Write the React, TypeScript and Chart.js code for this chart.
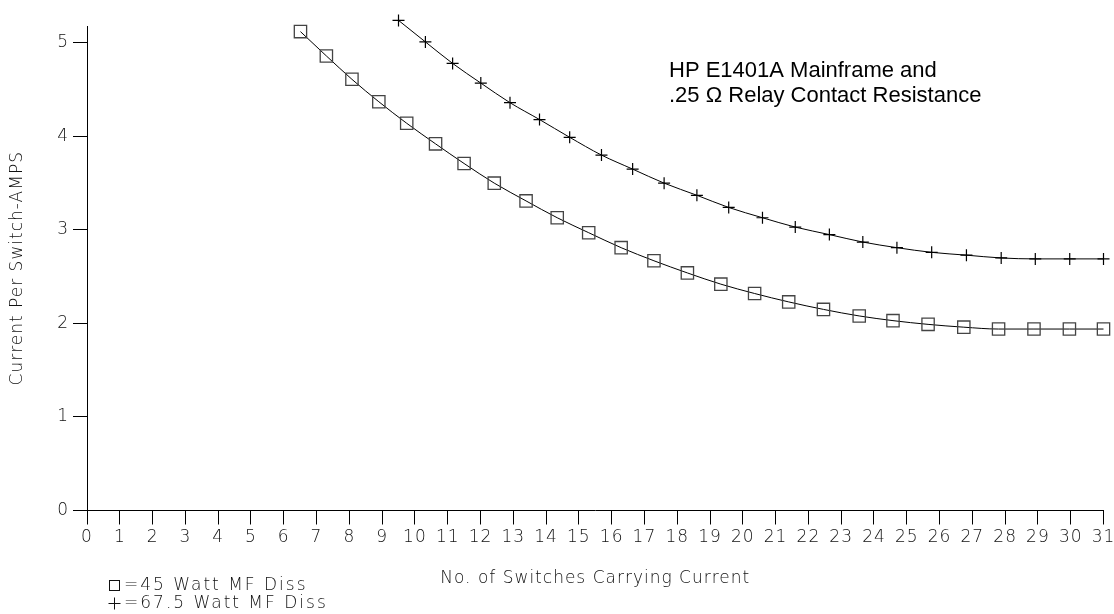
import React, { useEffect, useRef } from "react";
import { Chart, registerables } from "chart.js";

Chart.register(...registerables);

// 45 Watt mainframe dissipation (square markers)
const squareX = [6.51, 7.3, 8.08, 8.9, 9.75, 10.63, 11.5, 12.42, 13.39, 14.34, 15.3, 16.29, 17.29, 18.31, 19.33, 20.36, 21.4, 22.46, 23.55, 24.58, 25.65, 26.74, 27.8, 28.88, 29.96, 31.0];
const squareY = [5.12, 4.86, 4.61, 4.37, 4.14, 3.92, 3.71, 3.5, 3.31, 3.13, 2.97, 2.81, 2.67, 2.54, 2.42, 2.32, 2.23, 2.15, 2.08, 2.03, 1.99, 1.96, 1.94, 1.94, 1.94, 1.94];

// 67.5 Watt mainframe dissipation (plus markers)
const plusX = [9.5, 10.32, 11.15, 12.01, 12.9, 13.8, 14.72, 15.69, 16.64, 17.6, 18.6, 19.57, 20.6, 21.6, 22.64, 23.66, 24.7, 25.76, 26.82, 27.88, 28.92, 29.97, 31.0];
const plusY = [5.24, 5.01, 4.78, 4.57, 4.36, 4.18, 3.99, 3.8, 3.65, 3.5, 3.37, 3.24, 3.13, 3.03, 2.95, 2.87, 2.81, 2.76, 2.73, 2.7, 2.69, 2.69, 2.69];

const legendLabels = ["=45 Watt MF Diss", "=67.5 Watt MF Diss"];
const noteLines = ["HP E1401A Mainframe and", ".25 \u03A9 Relay Contact Resistance"];
const xTitle = "No. of Switches Carrying Current";
const yTitle = "Current Per Switch-AMPS";

const X_MIN = 0;
const X_MAX = 31;
const Y_MIN = 0;
const Y_MAX = 5.18;

const PLOT_FONT = '"DejaVu Sans", sans-serif';
const TEXT_COLOR = "#111";

export default function App() {
  const ref = useRef<HTMLCanvasElement>(null);

  useEffect(() => {
    if (!ref.current) return;

    const extras = {
      id: "extras",
      beforeDraw(chart: any) {
        chart.ctx.letterSpacing = "1px";
      },
      afterDraw(chart: any) {
        const ctx = chart.ctx as CanvasRenderingContext2D;
        ctx.save();
        // legend
        ctx.letterSpacing = "2px";
        ctx.font = `200 17px ${PLOT_FONT}`;
        ctx.fillStyle = TEXT_COLOR;
        ctx.strokeStyle = TEXT_COLOR;
        ctx.lineWidth = 1;
        ctx.textAlign = "left";
        ctx.textBaseline = "middle";
        const lx = 114.5;
        const ly0 = 585.5;
        const ly1 = 603.5;
        ctx.strokeRect(lx - 5, ly0 - 5, 10, 10);
        ctx.beginPath();
        ctx.moveTo(lx - 6, ly1);
        ctx.lineTo(lx + 6, ly1);
        ctx.moveTo(lx, ly1 - 6);
        ctx.lineTo(lx, ly1 + 6);
        ctx.stroke();
        ctx.fillText(legendLabels[0], 124, ly0);
        ctx.fillText(legendLabels[1], 124, ly1);

        // annotation
        ctx.letterSpacing = "0px";
        ctx.font = `22px "Liberation Sans", Arial, sans-serif`;
        ctx.fillStyle = "#000";
        ctx.textBaseline = "alphabetic";
        ctx.fillText(noteLines[0], 669, 77);
        ctx.fillText(noteLines[1], 669, 102);
        ctx.restore();
      },
    };

    const tickFont = { family: PLOT_FONT, size: 17, weight: 200 as any };

    const chart = new Chart(ref.current, {
      type: "line",
      data: {
        datasets: [
          {
            label: legendLabels[0],
            data: squareX.map((x, i) => ({ x, y: squareY[i] })),
            borderColor: "#000",
            borderWidth: 1,
            pointStyle: "rect",
            pointRadius: 8.7,
            pointBorderColor: "#444",
            pointBorderWidth: 1.3,
            pointBackgroundColor: "rgba(0,0,0,0)",
            cubicInterpolationMode: "monotone",
            fill: false,
            clip: false as any,
          },
          {
            label: legendLabels[1],
            data: plusX.map((x, i) => ({ x, y: plusY[i] })),
            borderColor: "#000",
            borderWidth: 1,
            pointStyle: "cross",
            pointRadius: 6,
            pointBorderColor: "#000",
            pointBorderWidth: 1.2,
            pointBackgroundColor: "rgba(0,0,0,0)",
            cubicInterpolationMode: "monotone",
            fill: false,
            clip: false as any,
          },
        ],
      },
      options: {
        animation: false,
        responsive: false,
        events: [],
        layout: { padding: { left: 0, top: 26, right: 10.5, bottom: 0 } },
        plugins: {
          legend: { display: false },
          tooltip: { enabled: false },
        },
        scales: {
          x: {
            type: "linear",
            min: X_MIN,
            max: X_MAX,
            ticks: {
              stepSize: 1,
              includeBounds: false,
              autoSkip: false,
              maxRotation: 0,
              padding: 3,
              color: TEXT_COLOR,
              font: tickFont,
            },
            grid: {
              drawOnChartArea: false,
              drawTicks: true,
              tickLength: 14,
              color: "#000",
              tickColor: "#000",
              lineWidth: 1,
            },
            border: { display: true, color: "#000", width: 1 },
            title: {
              display: true,
              text: xTitle,
              color: TEXT_COLOR,
              font: tickFont,
              padding: { top: 0, bottom: 25 },
            },
            afterFit(scale: any) {
              scale.height = 103.5;
              scale.paddingLeft = 0;
              scale.paddingRight = 0;
            },
          },
          y: {
            type: "linear",
            min: Y_MIN,
            max: Y_MAX,
            ticks: {
              stepSize: 1,
              includeBounds: false,
              padding: 4,
              color: TEXT_COLOR,
              font: tickFont,
            },
            grid: {
              drawOnChartArea: false,
              drawTicks: true,
              tickLength: 14,
              color: "#000",
              tickColor: "#000",
              lineWidth: 1,
            },
            border: { display: true, color: "#000", width: 1 },
            title: {
              display: true,
              text: yTitle,
              color: TEXT_COLOR,
              font: tickFont,
              padding: { top: 7, bottom: 0 },
            },
            afterFit(scale: any) {
              scale.width = 87;
              scale.paddingTop = 0;
              scale.paddingBottom = 0;
            },
          },
        },
      },
      plugins: [extras],
    });

    return () => chart.destroy();
  }, []);

  return (
    <div
      style={{
        position: "fixed",
        left: 0,
        top: 0,
        width: 1114,
        height: 614,
        background: "#fff",
      }}
    >
      <canvas ref={ref} width={1114} height={614} />
    </div>
  );
}
